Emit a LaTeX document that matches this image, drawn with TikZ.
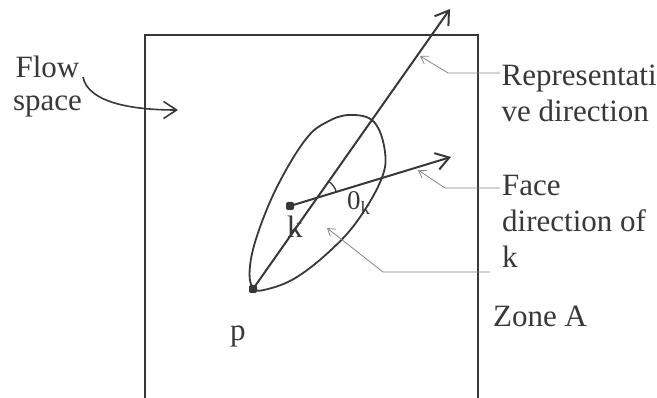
\documentclass[tikz,border=0pt]{standalone}
\usepackage{fontspec}
\setmainfont{Liberation Serif}
\usetikzlibrary{arrows.meta,positioning,calc}
\definecolor{ink}{HTML}{383838}
\definecolor{leadgray}{HTML}{858585}
\newcommand{\lblfont}{\fontsize{31}{36}\selectfont}
\tikzset{
  mainln/.style={draw=ink,line width=2pt},
  arr/.style={mainln,-{Straight Barb[length=13pt,width=17pt]}},
  lead/.style={draw=leadgray,line width=0.8pt,-{Straight Barb[length=7pt,width=9pt]}},
  lbl/.style={font=\lblfont,text=ink,inner sep=0pt,align=left},
  dotn/.style={rectangle,rounded corners=2pt,fill=ink,inner sep=0pt,minimum size=8pt}
}
\begin{document}
\begin{tikzpicture}[x=1pt,y=1pt]
  \useasboundingbox (0,0) rectangle (657,398);
  % Zone A outline
  \draw[mainln] (145,0) -- (145,363) -- (478,363) -- (478,0);

  % Points p and k
  \node[dotn] (p) at (253,109) {};
  \node[dotn] (k) at (290,192) {};
  \node[lbl, anchor=base west] (plbl) at (230,57) {p};
  \node[lbl, anchor=base west] (klbl) at (287,160) {k};

  % Ellipse round k
  \draw[ink, line width=1.8pt] plot[smooth cycle, tension=0.65] coordinates {
    (253,110) (250,132) (259,168) (279,215) (306,259) (327,276) (350,283)
    (374,276) (385,246) (381,218) (358,178) (331,148) (297,121) (268,109)};

  % Directions
  \coordinate (reptip) at (450,389);
  \coordinate (facetip) at (451,241);
  \draw[arr] (p.center) -- (reptip);
  \draw[arr] (k.center) -- (facetip);

  % Angle between the directions
  \coordinate (o) at (317.2,200.3);
  \draw[ink, line width=1.3pt] ($(o)+(16.9:20pt)$) arc[start angle=16.9, end angle=54.9, radius=20pt];
  \node[font=\fontsize{27}{30}\selectfont, text=ink, inner sep=0pt, anchor=base west] (ang) at (347,188) {0\textsubscript{k}};

  % Labels on the right
  \node[lbl, anchor=north west] (rep) at (501.5,333) {Representati\\ve direction};
  \node[lbl, anchor=north west] (face) at (502,222.5) {Face\\direction of\\k};
  \node[lbl, anchor=base west] (zone) at (493,71) {Zone A};

  % Leader lines
  \coordinate (repl) at (500,325);
  \coordinate (repa) at (420,342);
  \draw[lead] (repl) -- (448,325) -- (repa);
  \coordinate (facel) at (500,210);
  \coordinate (facea) at (418,228);
  \draw[lead] (facel) -- (445,210) -- (facea);
  \coordinate (kl) at (490,126);
  \coordinate (ka) at (327,170);
  \draw[lead] (kl) -- (383,126) -- (ka);

  % Flow space
  \node[lbl, align=center, anchor=north, font=\fontsize{31}{33}\selectfont] (flow) at (47.5,342) {Flow\\space};
  \coordinate (flows) at (83,321);
  \coordinate (flowtip) at (178,288);
  \draw[mainln, line width=1.6pt, -{Straight Barb[length=13pt,width=17pt]}] (flows) .. controls (88,296) and (130,288) .. (flowtip);
\end{tikzpicture}
\end{document}
